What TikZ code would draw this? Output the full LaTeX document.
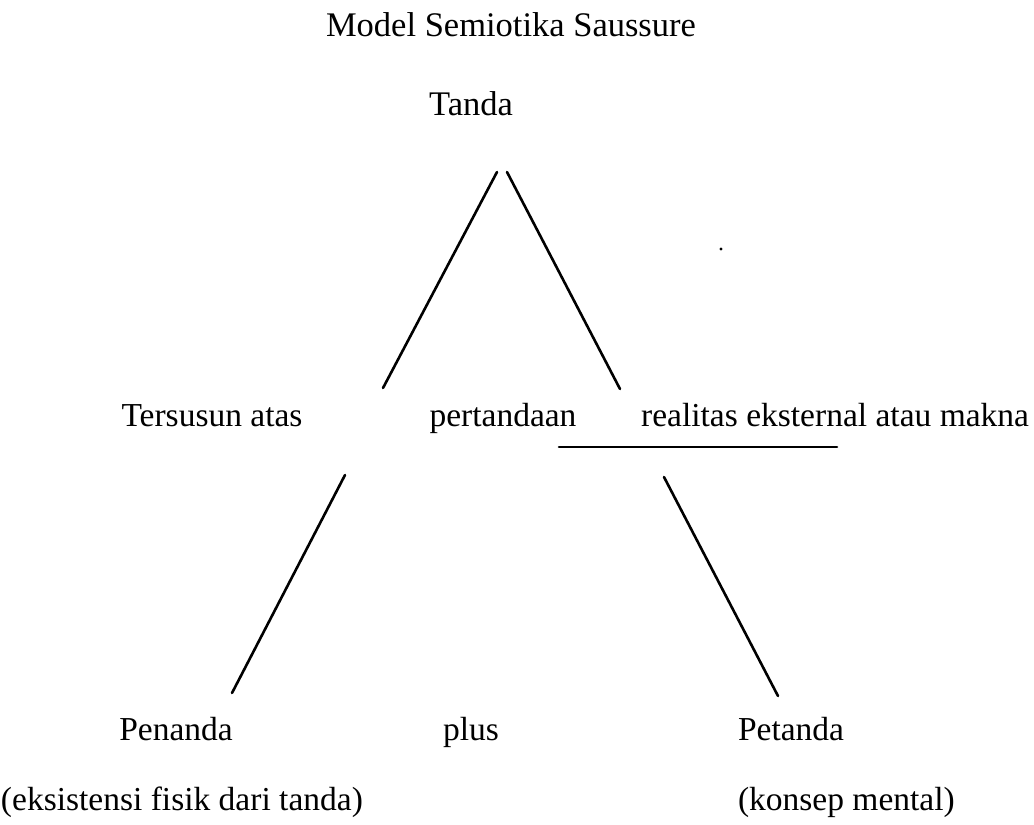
\documentclass[tikz,border=0pt]{standalone}
\usepackage{fontspec}
\setmainfont{Liberation Serif}
\begin{document}
\begin{tikzpicture}[x=1pt,y=-1pt,
  lbl/.style={inner sep=0pt, outer sep=0pt, font=\fontsize{33.5}{40}\selectfont},
  big/.style={inner sep=0pt, outer sep=0pt, font=\fontsize{34.5}{41}\selectfont},
  stroke/.style={line width=2.6pt, line cap=round}]
\useasboundingbox (0,0) rectangle (1034,825);
% texts
\node[big, anchor=base] (title) at (511,36) {Model Semiotika Saussure};
\node[big, anchor=base] (tanda) at (471,115) {Tanda};
\node[lbl, anchor=base] (tersusun) at (212,426) {Tersusun atas};
\node[lbl, anchor=base] (pert) at (503,426) {pertandaan};
\node[lbl, anchor=base east] (real) at (1029,426) {realitas eksternal atau makna};
\node[lbl, anchor=base] (penanda) at (176,740) {Penanda};
\node[lbl, anchor=base] (plus) at (471,740) {plus};
\node[lbl, anchor=base west] (petanda) at (738,740) {Petanda};
\node[lbl, anchor=base west] (eksis) at (1,810) {(eksistensi fisik dari tanda)};
\node[lbl, anchor=base west] (konsep) at (738,810) {(konsep mental)};
% line end points
\coordinate (ulT) at (497,172);
\coordinate (ulB) at (383,388);
\coordinate (urT) at (507,172);
\coordinate (urB) at (620,389);
\coordinate (llT) at (345,475);
\coordinate (llB) at (232,693);
\coordinate (lrT) at (664,477);
\coordinate (lrB) at (778,696);
\coordinate (unL) at (559,447);
\coordinate (unR) at (837,447);
\coordinate (dot) at (721,249);
% lines
\draw[stroke] (ulT) -- (ulB);
\draw[stroke] (urT) -- (urB);
\draw[stroke] (llT) -- (llB);
\draw[stroke] (lrT) -- (lrB);
\draw[stroke] (unL) -- (unR);
\fill (dot) circle (1.6pt);
\end{tikzpicture}
\end{document}
